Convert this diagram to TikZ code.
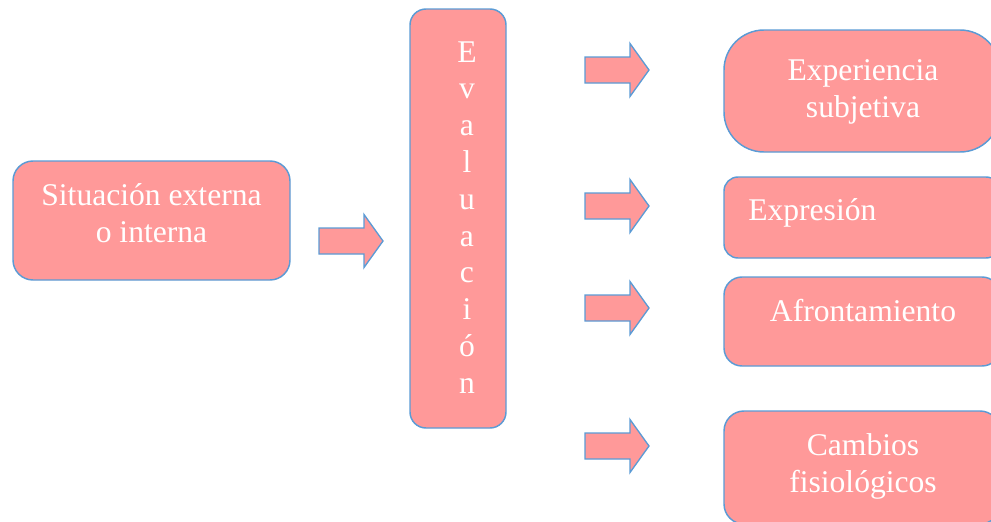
\documentclass[tikz,border=0pt]{standalone}
\usepackage{fontspec}
\setmainfont{Liberation Serif}
\definecolor{boxfill}{HTML}{FF9999}
\definecolor{boxline}{HTML}{5B9BD5}

% block arrow: left end of the shaft at (#1,#2), pointing right
\newcommand\blockarr[2]{%
  \draw[blockarrow] (#1,#2) ++(0,-13) -- ++(45,0) -- ++(0,-13.5) -- ++(19,26.5)
    -- ++(-19,26.5) -- ++(0,-13.5) -- ++(-45,0) -- cycle;}

\begin{document}
\begin{tikzpicture}[x=0.75pt,y=-0.75pt,
  box/.style={draw=boxline, fill=boxfill, line width=1.1pt, inner sep=0pt, outer sep=0pt},
  lbl/.style={text=white, font=\fontsize{23.7}{28}\selectfont, anchor=base, inner sep=0pt},
  blockarrow/.style={draw=boxline, fill=boxfill, line width=1pt, line join=miter}]

\useasboundingbox (0,0) rectangle (991,521);
\clip (0,0) rectangle (991,521);

% source box
\node[box, rounded corners=15pt, minimum width=207.75pt, minimum height=89.25pt] (src) at (151.5,220.5) {};
\node[lbl] (src1) at (151.5,205) {Situación externa};
\node[lbl] (src2) at (151.5,242) {o interna};

% appraisal column
\node[box, rounded corners=12pt, minimum width=72pt, minimum height=314.25pt] (eval) at (458,218.5) {};
\foreach \ch [count=\i from 0] in {E,v,a,l,u,a,c,i,ó,n}
  \node[lbl] (ev\i) at (467,62+36.8*\i) {\ch};

% outcome boxes
\node[box, rounded corners=30pt, minimum width=207pt, minimum height=91.5pt] (exp) at (862,91) {};
\node[lbl] (exp1) at (863,80) {Experiencia};
\node[lbl] (exp2) at (863,117) {subjetiva};

\node[box, rounded corners=10.5pt, minimum width=207pt, minimum height=60.75pt] (expr) at (862,217.5) {};
\node[lbl, anchor=base west] (expr1) at (748,220) {Expresión};

\node[box, rounded corners=13.5pt, minimum width=207pt, minimum height=66.75pt] (afr) at (862,321.5) {};
\node[lbl] (afr1) at (863,321) {Afrontamiento};

\node[box, rounded corners=15pt, minimum width=207pt, minimum height=84.75pt] (camb) at (862,467.5) {};
\node[lbl] (camb1) at (863,455) {Cambios};
\node[lbl] (camb2) at (863,492) {fisiológicos};

% block arrows
\blockarr{319}{241}
\foreach \yy in {70,206,308,446} { \blockarr{585}{\yy} }
\end{tikzpicture}
\end{document}
